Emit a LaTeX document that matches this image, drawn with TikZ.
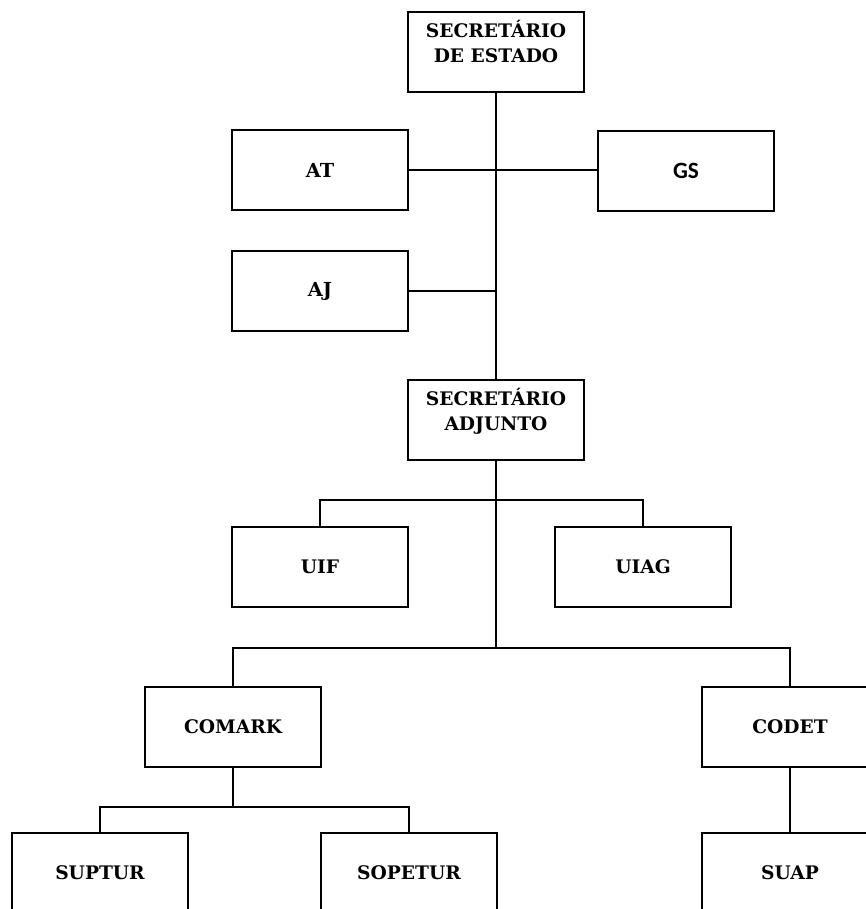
\documentclass[tikz,border=0pt]{standalone}
\usepackage{fontspec}
\setmainfont{DejaVu Serif}
\newfontfamily\boxsans{Carlito}
\usepackage{tikz}
\usetikzlibrary{positioning}
\tikzstyle{box} = [
    rectangle, draw,
    minimum width=132pt,
    minimum height=60pt,
    text centered,
    align=center,
    draw=black,
    line width=1.1pt,
    font=\fontsize{14}{18.75}\selectfont\bfseries
]
\tikzstyle{widebox} = [
    box,
    font=\fontsize{14.5}{18.75}\selectfont\bfseries
]
\tikzstyle{sansbox} = [
    box,
    font=\fontsize{17.5}{18.75}\selectfont\boxsans\bfseries
]
\tikzstyle{link} = [
    line width=1.1pt
]

\begin{document}
\begin{tikzpicture}[
	x=0.75pt, y=-0.75pt
]
\clip (0,0) rectangle (866,909);

\node (sec) [box] at (496,52)
    {SECRETÁRIO\\DE ESTADO\\[-9pt]\strut};
\node (at) [widebox] at (320,170) {AT};
\node (gs) [sansbox] at (686,171) {GS};
\node (aj) [widebox] at (320,291) {AJ};
\node (adj) [box] at (496,420)
    {SECRETÁRIO\\ADJUNTO\\[-9pt]\strut};
\node (uif) [box] at (320,567) {UIF};
\node (uiag) [box] at (643,567) {UIAG};
\node (comark) [box] at (233,727) {COMARK};
\node (codet) [box] at (790,727) {CODET};
\node (suptur) [box] at (100,873) {SUPTUR};
\node (sopetur) [box] at (409,873) {SOPETUR};
\node (suap) [box] at (790,873) {SUAP};

\coordinate (fork1) at (496,500);
\coordinate (fork2) at (496,648);
\coordinate (fork3) at (233,807);

\draw [link] (sec) -- (adj);
\draw [link] (at.east) -- (at.east -| gs.west);
\draw [link] (aj.east) -- (aj.east -| sec.south);

% unidades ligadas ao adjunto
\draw [link] (adj.south) -- (fork2);
\draw [link] (uif.north) |- (fork1) -| (uiag.north);
\draw [link] (comark.north) |- (fork2) -| (codet.north);

\draw [link] (comark.south) -- (fork3);
\draw [link] (suptur.north) |- (fork3) -| (sopetur.north);
\draw [link] (codet) -- (suap);

\end{tikzpicture}
\end{document}
